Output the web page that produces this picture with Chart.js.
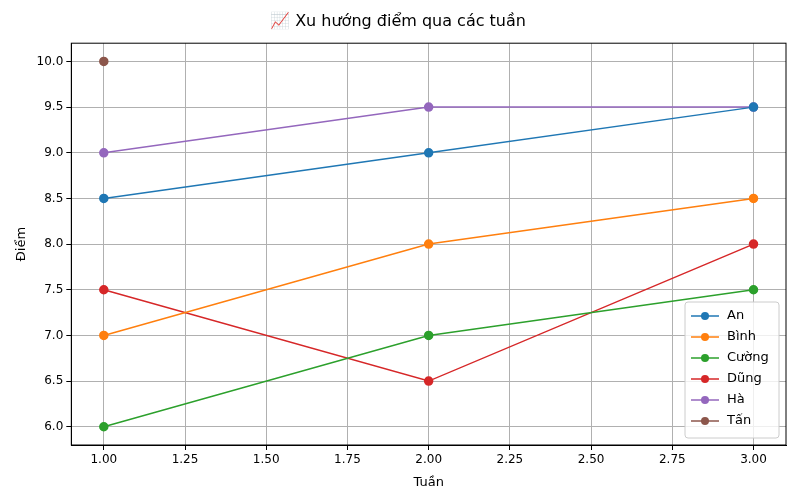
<!DOCTYPE html>
<html><head><meta charset="utf-8">
<script src="https://cdn.jsdelivr.net/npm/chart.js@4/dist/chart.umd.min.js"></script>
<style>body{margin:0;background:#fff}</style></head>
<body><canvas id="c" width="800" height="500" style="width:800px;height:500px"></canvas>
<script>
const weeks=[1,2,3];
const names=["An","Bình","Cường","Dũng","Hà","Tấn"];
const colors=["#1f77b4","#ff7f0e","#2ca02c","#d62728","#9467bd","#8c564b"];
const scores=[[8.5,9,9.5],[7,8,8.5],[6,7,7.5],[7.5,6.5,8],[9,9.5,9.5],[10]];
const F="'DejaVu Sans'";
const legendPlugin={id:'lg',afterDraw(ch){
 const c=ch.ctx,a=ch.chartArea;const w=94,h=21*names.length+10;
 const x=a.right-w-7,y=a.bottom-h-7;
 c.save();c.fillStyle='rgba(255,255,255,0.8)';c.strokeStyle='#ccc';c.lineWidth=1;
 c.beginPath();c.roundRect(x,y,w,h,3);c.fill();c.stroke();
 c.font='13px '+F;c.textBaseline='middle';
 names.forEach((n,i)=>{const yy=y+14+i*21;c.strokeStyle=colors[i];c.lineWidth=1.5;
  c.beginPath();c.moveTo(x+6,yy);c.lineTo(x+34,yy);c.stroke();
  c.fillStyle=colors[i];c.beginPath();c.arc(x+20,yy,4,0,Math.PI*2);c.fill();
  c.fillStyle='#000';c.fillText(n,x+42,yy);});
 c.strokeStyle='#000';c.lineWidth=1;c.strokeRect(a.left,a.top,a.right-a.left,a.bottom-a.top);
 c.restore();}};
new Chart(document.getElementById('c'),{type:'line',
 data:{datasets:names.map((n,i)=>({label:n,data:scores[i].map((v,j)=>({x:weeks[j],y:v})),
  borderColor:colors[i],backgroundColor:colors[i],borderWidth:1.5,pointRadius:4,pointHoverRadius:4,tension:0}))},
 options:{responsive:false,animation:false,devicePixelRatio:1,
  layout:{padding:{left:10,right:14,top:8,bottom:6}},
  plugins:{legend:{display:false},tooltip:{enabled:false},
   title:{display:true,text:'📈 Xu hướng điểm qua các tuần',color:'#000',font:{family:F,size:16,weight:'normal'},padding:{top:4,bottom:12}}},
  scales:{
   x:{type:'linear',min:0.9,max:3.1,afterBuildTicks(s){s.ticks=[1,1.25,1.5,1.75,2,2.25,2.5,2.75,3].map(v=>({value:v}));},
    ticks:{color:'#000',font:{family:F,size:12},callback:v=>v.toFixed(2),maxRotation:0},
    grid:{color:'#b0b0b0',tickColor:'#000',tickLength:5},border:{color:'#000'},
    title:{display:true,text:'Tuần',color:'#000',font:{family:F,size:13}}},
   y:{min:5.8,max:10.2,afterBuildTicks(s){s.ticks=[6,6.5,7,7.5,8,8.5,9,9.5,10].map(v=>({value:v}));},
    ticks:{color:'#000',font:{family:F,size:12},callback:v=>v.toFixed(1)},
    grid:{color:'#b0b0b0',tickColor:'#000',tickLength:5},border:{color:'#000'},
    title:{display:true,text:'Điểm',color:'#000',font:{family:F,size:13}}}}},
 plugins:[legendPlugin]});
</script>
</body></html>
